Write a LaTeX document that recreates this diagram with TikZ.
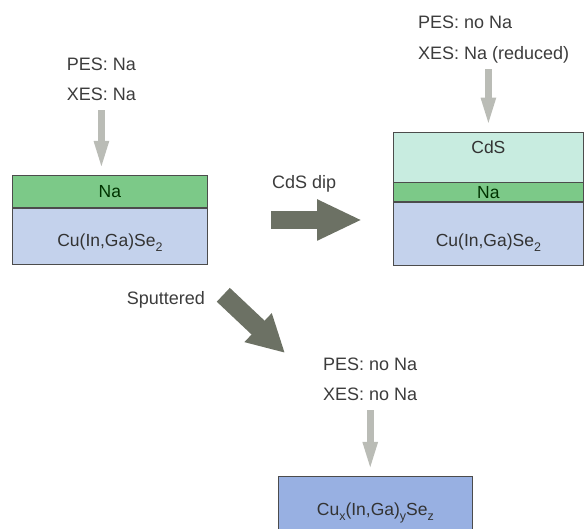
\documentclass[tikz,border=0pt]{standalone}
\usepackage{fontspec}
\setmainfont{Liberation Sans}
\usetikzlibrary{positioning,arrows.meta}

\definecolor{nagreen}{RGB}{124,201,136}
\definecolor{cigsblue}{RGB}{196,210,236}
\definecolor{cdscyan}{RGB}{200,236,224}
\definecolor{cuxblue}{RGB}{152,176,226}
\definecolor{bigarrow}{RGB}{108,113,100}
\definecolor{probegray}{RGB}{186,188,182}
\definecolor{labelgray}{RGB}{60,60,60}

\newcommand{\lowidx}[1]{\raisebox{-5pt}{\fontsize{12.5}{13}\selectfont #1}}

\begin{document}
\begin{tikzpicture}[x=1pt, y=1pt,
    layer/.style={draw=black!70, line width=0.8pt, inner sep=0pt, text=black!80,
        font=\fontsize{17.5}{20}\selectfont, text height=13pt, text depth=0pt},
    lbl/.style={anchor=base west, inner sep=0pt, text=labelgray, text depth=0pt,
        font=\fontsize{18}{22}\selectfont},
    probe/.style={-{Triangle[width=13pt,length=30pt]}, line width=7pt, draw=probegray,
        shorten <=9pt, shorten >=4pt},
    process/.style={-{Triangle[width=38pt,length=45pt]}, line width=18pt, draw=bigarrow}
]
\clip (0,0) rectangle (584,529);

% as grown
\node[layer, fill=nagreen, text=green!20!black, minimum width=195pt, minimum height=32pt,
      anchor=north west] (naL) at (12,354) {Na};
\node[layer, fill=cigsblue, minimum width=195pt, minimum height=56pt, text height=20pt,
      below=0pt of naL] (cigsL) {Cu(In,Ga)Se\lowidx{2}};

% after CdS dip
\node[layer, fill=cdscyan, minimum width=190pt, minimum height=50pt, text depth=20pt,
      anchor=north west] (cdsR) at (393,397.3) {CdS};
\node[layer, fill=nagreen, text=green!20!black, minimum width=190pt, minimum height=18.3pt,
      below=0pt of cdsR] (naR) {Na};
\node[layer, fill=cigsblue, minimum width=190pt, minimum height=63pt, text height=27pt,
      below=0pt of naR] (cigsR) {Cu(In,Ga)Se\lowidx{2}};

% after sputtering
\node[layer, fill=cuxblue, minimum width=194pt, minimum height=64pt, text height=14pt,
      anchor=north west] (cuB) at (278,53)
      {Cu\lowidx{x}(In,Ga)\lowidx{y}Se\lowidx{z}};

% labels
\node[lbl] (pesL) at (66.7,458.3) {PES: Na};
\node[lbl] (xesL) at (66.7,428) {XES: Na};
\node[lbl] (pesR) at (418,500) {PES: no Na};
\node[lbl] (xesR) at (418,469) {XES: Na (reduced)};
\node[lbl] (pesB) at (323,158) {PES: no Na};
\node[lbl] (xesB) at (323,128) {XES: no Na};
\node[lbl] (dip) at (272,340.7) {CdS dip};
\node[lbl] (sput) at (126.7,224) {Sputtered};

% probing arrows
\draw[probe] (xesL.south) -- (xesL.south |- naL.north);
\draw[probe] (xesR.south -| cdsR.north) -- (cdsR.north);
\draw[probe] (xesB.south) -- (xesB.south |- cuB.north);

% process arrows
\coordinate (dipfrom) at (271,309);
\coordinate (dipto) at (362,309);
\draw[process] (dipfrom) -- (dipto);

\coordinate (sputfrom) at (223.3,234.2);
\coordinate (sputto) at (285,176);
\draw[process, -{Triangle[width=37pt,length=37pt]}, line width=19pt] (sputfrom) -- (sputto);

\end{tikzpicture}
\end{document}
